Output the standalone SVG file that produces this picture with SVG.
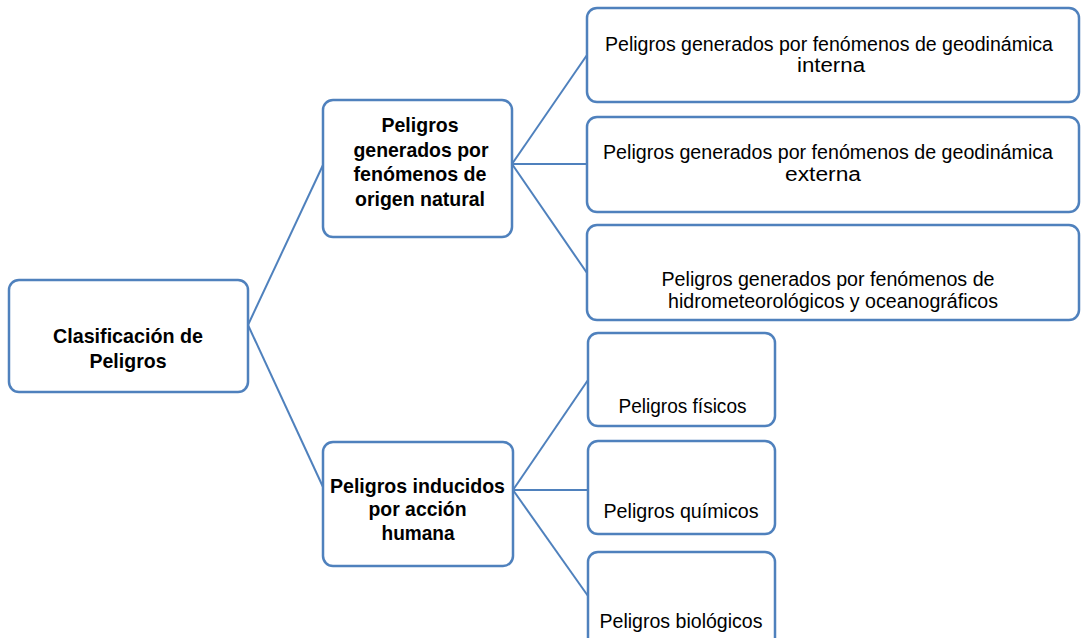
<svg xmlns="http://www.w3.org/2000/svg" width="1081" height="638" viewBox="0 0 1081 638">
<style>
.box{fill:#ffffff;stroke:#4f81bd;stroke-width:2.5}
.conn{stroke:#4f81bd;stroke-width:2;fill:none}
.b{font-family:"Liberation Sans",Arial,sans-serif;font-weight:bold;font-size:21px;fill:#000;text-anchor:middle}
.r{font-family:"Liberation Sans",Arial,sans-serif;font-size:20px;fill:#000;text-anchor:middle}
</style>
<rect width="1081" height="638" fill="#ffffff"/>
<g id="connectors">
<line class="conn" x1="248" y1="325" x2="323" y2="165"/>
<line class="conn" x1="248" y1="325" x2="323" y2="487"/>
<line class="conn" x1="512" y1="164" x2="587" y2="55"/>
<line class="conn" x1="512" y1="164" x2="587" y2="164"/>
<line class="conn" x1="512" y1="164" x2="587" y2="273"/>
<line class="conn" x1="513" y1="490" x2="588" y2="380"/>
<line class="conn" x1="513" y1="490" x2="588" y2="490"/>
<line class="conn" x1="513" y1="490" x2="588" y2="596"/>
</g>
<g id="root">
<rect class="box" x="9" y="280" width="239" height="112" rx="10"/>
<text class="b" x="128" y="343" textLength="150" lengthAdjust="spacingAndGlyphs">Clasificación de</text>
<text class="b" x="128" y="368" textLength="77" lengthAdjust="spacingAndGlyphs">Peligros</text>
</g>
<g id="natural">
<rect class="box" x="323" y="100" width="189" height="137" rx="10"/>
<text class="b" x="420" y="132" textLength="77" lengthAdjust="spacingAndGlyphs">Peligros</text>
<text class="b" x="421" y="157" textLength="135" lengthAdjust="spacingAndGlyphs">generados por</text>
<text class="b" x="420" y="181" textLength="133" lengthAdjust="spacingAndGlyphs">fenómenos de</text>
<text class="b" x="420" y="206" textLength="130" lengthAdjust="spacingAndGlyphs">origen natural</text>
</g>
<g id="induced">
<rect class="box" x="323" y="442" width="190" height="124" rx="10"/>
<text class="b" x="417.5" y="493" textLength="175" lengthAdjust="spacingAndGlyphs">Peligros inducidos</text>
<text class="b" x="417.5" y="516" textLength="98" lengthAdjust="spacingAndGlyphs">por acción</text>
<text class="b" x="418" y="540" textLength="73" lengthAdjust="spacingAndGlyphs">humana</text>
</g>
<g id="geo-interna">
<rect class="box" x="587" y="8" width="492" height="94" rx="10"/>
<text class="r" x="829" y="50.5" textLength="448" lengthAdjust="spacingAndGlyphs">Peligros generados por fenómenos de geodinámica</text>
<text class="r" x="831" y="72" textLength="68" lengthAdjust="spacingAndGlyphs">interna</text>
</g>
<g id="geo-externa">
<rect class="box" x="587" y="117" width="492" height="95" rx="10"/>
<text class="r" x="828" y="159" textLength="450" lengthAdjust="spacingAndGlyphs">Peligros generados por fenómenos de geodinámica</text>
<text class="r" x="823" y="180.5" textLength="76" lengthAdjust="spacingAndGlyphs">externa</text>
</g>
<g id="hidro">
<rect class="box" x="587" y="225" width="492" height="95" rx="10"/>
<text class="r" x="828" y="286" textLength="333" lengthAdjust="spacingAndGlyphs">Peligros generados por fenómenos de</text>
<text class="r" x="833" y="307.5" textLength="330" lengthAdjust="spacingAndGlyphs">hidrometeorológicos y oceanográficos</text>
</g>
<g id="fisicos">
<rect class="box" x="588" y="333" width="187" height="93" rx="10"/>
<text class="r" x="682.5" y="413" textLength="128" lengthAdjust="spacingAndGlyphs">Peligros físicos</text>
</g>
<g id="quimicos">
<rect class="box" x="588" y="441" width="187" height="93" rx="10"/>
<text class="r" x="681" y="518" textLength="155" lengthAdjust="spacingAndGlyphs">Peligros químicos</text>
</g>
<g id="biologicos">
<rect class="box" x="588" y="552" width="187" height="100" rx="10"/>
<text class="r" x="681" y="628" textLength="163" lengthAdjust="spacingAndGlyphs">Peligros biológicos</text>
</g>
</svg>
